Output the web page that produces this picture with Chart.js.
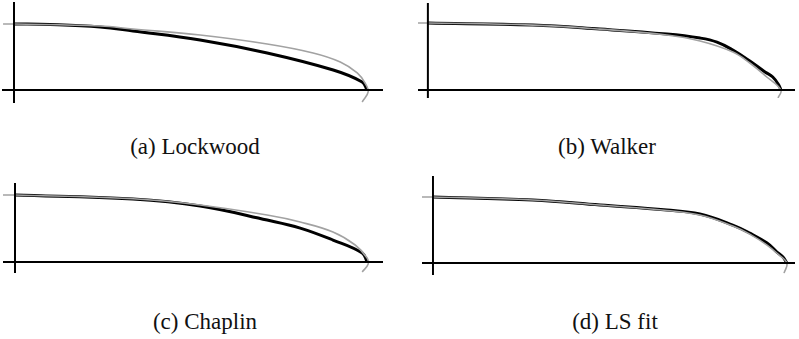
<!DOCTYPE html>
<html>
<head>
<meta charset="utf-8">
<script src="https://cdn.jsdelivr.net/npm/chart.js@4"></script>
<style>
  html, body { margin: 0; padding: 0; background: #fff; }
  #page { position: relative; width: 799px; height: 339px; background: #fff; overflow: hidden; }
  .panel { position: absolute; }
  .caption { position: absolute; font-family: "Liberation Serif", "Times New Roman", Times, serif; font-size: 23px; color: #111; white-space: nowrap; transform: translate(-50%, -50%); }
</style>
</head>
<body>
<div id="page">
  <canvas class="panel" id="chartA"></canvas>
  <canvas class="panel" id="chartB"></canvas>
  <canvas class="panel" id="chartC"></canvas>
  <canvas class="panel" id="chartD"></canvas>
  <div class="caption" id="capA"></div>
  <div class="caption" id="capB"></div>
  <div class="caption" id="capC"></div>
  <div class="caption" id="capD"></div>
</div>
<script>
// captions
var captions = ["(a) Lockwood", "(b) Walker", "(c) Chaplin", "(d) LS fit"];

// x = distance along, y = height (1 = leading height, x=1 = tip)
// (a) Lockwood
var lockwoodX = [0, 0.102, 0.244, 0.337, 0.527, 0.717, 0.904, 0.986, 1.0];
var lockwoodY = [1, 0.992, 0.955, 0.894, 0.758, 0.561, 0.303, 0.121, 0.0];
var exactAX = [-0.031, 0, 0.244, 0.337, 0.527, 0.717, 0.847, 0.924, 0.972, 0.994, 1.003, 0.986];
var exactAY = [1, 1, 0.970, 0.924, 0.833, 0.697, 0.561, 0.424, 0.258, 0.106, -0.030, -0.182];

// (b) Walker
var walkerX = [0, 0.297, 0.487, 0.677, 0.771, 0.819, 0.864, 0.912, 0.955, 0.977, 0.994, 1.0];
var walkerY = [1, 0.970, 0.910, 0.836, 0.776, 0.716, 0.597, 0.433, 0.269, 0.194, 0.075, 0.0];
var exactBX = [-0.031, 0, 0.297, 0.487, 0.677, 0.771, 0.864, 0.912, 0.960, 1.0, 0.992];
var exactBY = [1, 1, 0.970, 0.910, 0.821, 0.731, 0.567, 0.403, 0.194, 0.0, -0.119];

// (c) Chaplin
var chaplinX = [0, 0.335, 0.526, 0.716, 0.810, 0.903, 0.986, 1.0];
var chaplinY = [1, 0.940, 0.836, 0.627, 0.507, 0.328, 0.134, 0.0];
var exactCX = [-0.034, 0, 0.335, 0.526, 0.716, 0.810, 0.903, 0.966, 1.0, 1.003, 0.986];
var exactCY = [1, 1, 0.945, 0.851, 0.701, 0.597, 0.448, 0.254, 0.06, -0.03, -0.149];

// (d) LS fit
var lsX = [0, 0.282, 0.472, 0.661, 0.754, 0.847, 0.895, 0.944, 0.972, 0.989, 1.0];
var lsY = [1, 0.955, 0.879, 0.803, 0.742, 0.576, 0.455, 0.303, 0.167, 0.091, 0.0];
var exactDX = [-0.031, 0, 0.282, 0.472, 0.661, 0.754, 0.847, 0.895, 0.944, 0.975, 1.0, 0.992];
var exactDY = [1, 1, 0.955, 0.879, 0.795, 0.727, 0.561, 0.439, 0.273, 0.136, 0.0, -0.152];

function toPoints(xs, ys) {
  var pts = [];
  for (var i = 0; i < xs.length; i++) {
    pts.push({x: xs[i], y: ys[i]});
  }
  return pts;
}

// panel: canvas box in page pixels + axis ranges in data units
function makePanel(id, capId, caption, box, range, fitX, fitY, exX, exY) {
  var cv = document.getElementById(id);
  cv.width = box.w;
  cv.height = box.h;
  cv.style.left = box.left + "px";
  cv.style.top = box.top + "px";

  var cap = document.getElementById(capId);
  cap.textContent = caption;
  cap.style.left = box.capX + "px";
  cap.style.top = box.capY + "px";

  new Chart(cv, {
    type: 'scatter',
    data: {
      datasets: [
        {
          data: [{x: range.xMin, y: 0}, {x: range.xMax, y: 0}],
          showLine: true, borderColor: '#000', borderWidth: 2, tension: 0, clip: 4
        },
        {
          data: [{x: 0, y: range.yMin}, {x: 0, y: range.yMax}],
          showLine: true, borderColor: '#000', borderWidth: 2, tension: 0, clip: 4
        },
        {
          data: toPoints(exX, exY),
          showLine: true, borderColor: '#a2a2a2', borderWidth: 1.6, tension: 0.4, clip: 4
        },
        {
          data: toPoints(fitX, fitY),
          showLine: true, borderColor: '#000', borderWidth: 3, tension: 0.4, clip: 4
        }
      ]
    },
    options: {
      responsive: false,
      animation: false,
      layout: { padding: 0 },
      elements: { point: { radius: 0, hoverRadius: 0 } },
      plugins: { legend: { display: false }, tooltip: { enabled: false } },
      scales: {
        x: { type: 'linear', display: false, min: range.xMin, max: range.xMax },
        y: { type: 'linear', display: false, min: range.yMin, max: range.yMax }
      }
    }
  });
}

makePanel("chartA", "capA", captions[0],
  {left: 2, top: 2, w: 381, h: 101, capX: 195, capY: 147},
  {xMin: -0.034, xMax: 1.045, yMin: -0.197, yMax: 1.333},
  lockwoodX, lockwoodY, exactAX, exactAY);

makePanel("chartB", "capB", captions[1],
  {left: 418, top: 3, w: 377, h: 95, capX: 607, capY: 147},
  {xMin: -0.028, xMax: 1.040, yMin: -0.12, yMax: 1.30},
  walkerX, walkerY, exactBX, exactBY);

makePanel("chartC", "capC", captions[2],
  {left: 3, top: 183, w: 380, h: 90, capX: 205, capY: 322},
  {xMin: -0.034, xMax: 1.045, yMin: -0.164, yMax: 1.18},
  chaplinX, chaplinY, exactCX, exactCY);

makePanel("chartD", "capD", captions[3],
  {left: 422, top: 176, w: 373, h: 99, capX: 615, capY: 322},
  {xMin: -0.031, xMax: 1.023, yMin: -0.18, yMax: 1.318},
  lsX, lsY, exactDX, exactDY);
</script>
</body>
</html>
